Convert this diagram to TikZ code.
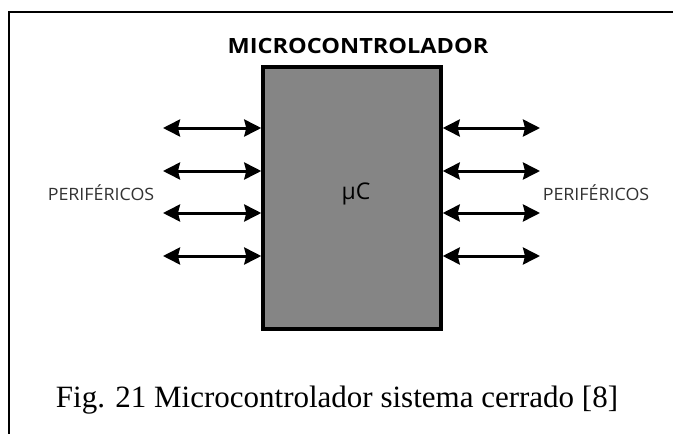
\documentclass[tikz,border=0pt]{standalone}
\usepackage{fontspec}
\setmainfont{Liberation Serif}
\newfontfamily\labfont{Open Sans}
\usetikzlibrary{arrows.meta}
\tikzset{
  link/.style={line width=3pt, {Stealth[length=17pt,width=17pt,inset=2pt]}-{Stealth[length=17pt,width=17pt,inset=2pt]}},
  peri/.style={font=\labfont\fontsize{17}{17}\selectfont, inner sep=0pt, text=black!80, xscale=1.05},
  mcu/.style={draw=black, line width=3.5pt, fill=black!48, minimum width=178pt, minimum height=262pt, inner sep=0pt}
}
\begin{document}
\begin{tikzpicture}[x=1pt,y=-1pt]
\useasboundingbox (0,0) rectangle (673,434);
\fill[white] (0,0) rectangle (673,434);
% frame
\draw[line width=2.5pt] (9,434) -- (9,12) -- (673,12);
% box
\node[mcu] (uc) at (352,198) {};
\node[font=\labfont\fontsize{23}{23}\selectfont, inner sep=0pt, text=black] (t) at (356,194) {µC};
\node[font=\labfont\bfseries\fontsize{21}{21}\selectfont, inner sep=0pt, xscale=1.12] (title) at (358,46) {MICROCONTROLADOR};
% arrows
\foreach \y [count=\i] in {128,171,213,256} {
  \coordinate (la\i) at (163,\y);
  \coordinate (lb\i) at (uc.west |- 0,\y);
  \draw[link] (la\i) -- (lb\i);
  \coordinate (ra\i) at (uc.east |- 0,\y);
  \coordinate (rb\i) at (540,\y);
  \draw[link] (ra\i) -- (rb\i);
}
\node[peri] (pl) at (101,193) {PERIFÉRICOS};
\node[peri] (pr) at (596,193) {PERIFÉRICOS};
\node[font=\fontsize{31}{31}\selectfont, inner sep=0pt] (cap) at (337,400) {Fig. 21 Microcontrolador sistema cerrado [8]};
\end{tikzpicture}
\end{document}
